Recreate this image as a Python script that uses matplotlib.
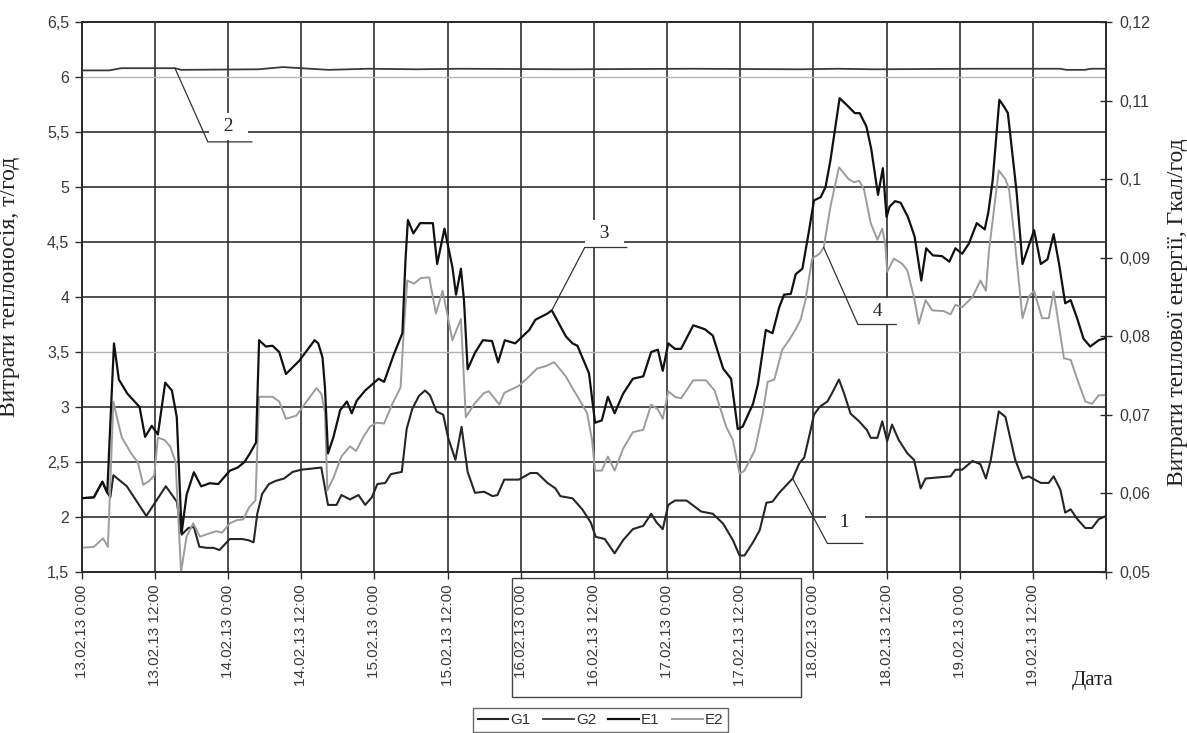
import matplotlib
matplotlib.use("Agg")
import matplotlib.pyplot as plt
from matplotlib.patches import Rectangle
from matplotlib.lines import Line2D

# hours counted from 13.02.13 0:00
hours_g1 = [0, 2, 3.4, 4.2, 4.7, 5.2, 7.4, 10.6, 13.8, 15.6,
            16.4, 17.5, 18.4, 19.3, 20.5, 21.6, 22.6, 24.3, 26.3, 27.3,
            28.2, 28.8, 29.6, 30.7, 31.9, 33.2, 34.6, 36.0, 39.3, 40.4,
            41.8, 42.6, 44.0, 45.4, 46.5, 47.6, 48.5, 49.8, 50.7, 52.5,
            53.3, 54.2, 55.3, 56.3, 57.1, 58.2, 59.3, 60.1, 61.3, 62.3,
            63.3, 64.5, 66.0, 67.4, 68.2, 69.3, 71.7, 73.6, 74.7, 76.4,
            77.7, 78.5, 80.5, 82.1, 83.5, 84.3, 85.8, 87.4, 88.8, 90.4,
            92.1, 93.4, 94.3, 95.3, 96.2, 97.3, 99.2, 101.6, 103.5, 105.2,
            106.8, 107.9, 108.7, 110.1, 111.2, 112.3, 113.3, 114.4, 116.6, 117.7,
            118.5, 119.3, 120.1, 121.0, 122.3, 123.1, 124.2, 125.0, 126.1, 127.5,
            128.8, 129.4, 130.5, 131.3, 132.1, 132.9, 134.0, 135.4, 136.5, 137.6,
            138.4, 142.5, 143.3, 144.4, 146.1, 147.4, 148.3, 149.1, 150.4, 151.5,
            153.1, 154.3, 155.3, 157.3, 158.6, 159.4, 160.5, 161.3, 162.2, 163.3,
            164.6, 165.7, 166.8, 168]
g1 = [2.17, 2.18, 2.32, 2.22, 2.18, 2.38, 2.28, 2.01, 2.28, 2.14,
      1.84, 1.90, 1.91, 1.73, 1.72, 1.72, 1.70, 1.80, 1.80, 1.79,
      1.77, 2.03, 2.21, 2.30, 2.33, 2.35, 2.41, 2.43, 2.45, 2.11,
      2.11, 2.20, 2.16, 2.20, 2.11, 2.18, 2.30, 2.31, 2.39, 2.41,
      2.80, 2.98, 3.10, 3.15, 3.11, 2.96, 2.93, 2.72, 2.52, 2.82,
      2.41, 2.22, 2.23, 2.19, 2.20, 2.34, 2.34, 2.40, 2.40, 2.31,
      2.26, 2.19, 2.17, 2.07, 1.95, 1.82, 1.80, 1.67, 1.79, 1.89,
      1.92, 2.03, 1.95, 1.89, 2.11, 2.15, 2.15, 2.05, 2.03, 1.94,
      1.79, 1.65, 1.65, 1.77, 1.88, 2.13, 2.14, 2.22, 2.35, 2.49,
      2.54, 2.73, 2.93, 3.00, 3.05, 3.13, 3.25, 3.13, 2.94, 2.87,
      2.79, 2.72, 2.72, 2.87, 2.69, 2.84, 2.70, 2.58, 2.52, 2.26,
      2.35, 2.37, 2.43, 2.43, 2.51, 2.48, 2.35, 2.52, 2.96, 2.91,
      2.52, 2.35, 2.37, 2.31, 2.31, 2.37, 2.25, 2.04, 2.07, 1.98,
      1.90, 1.90, 1.98, 2.01]

hours_g2 = [0, 4.5, 6.5, 15.3, 16.3, 29.0, 33.0, 36.0, 40.5, 47.0, 55.0,
            62.0, 80.0, 100.0, 118.0, 124.0, 130.0, 146.0, 160.5, 161.5,
            164.5, 165.5, 168]
g2 = [6.06, 6.06, 6.08, 6.08, 6.065, 6.07, 6.09, 6.08, 6.065, 6.075, 6.07,
      6.075, 6.07, 6.075, 6.07, 6.075, 6.07, 6.075, 6.075, 6.065,
      6.065, 6.075, 6.075]

hours_e1 = [0, 2, 3.4, 4.2, 4.6, 5.3, 6.1, 7.5, 9.5, 10.4,
            11.5, 12.5, 13.7, 14.8, 15.6, 16.4, 17.2, 18.4, 19.6, 21.0,
            22.4, 24.3, 25.6, 26.7, 27.6, 28.6, 29.1, 30.2, 31.3, 32.4,
            33.5, 35.7, 38.2, 38.8, 39.5, 39.9, 40.4, 41.3, 42.4, 43.5,
            44.3, 45.1, 46.5, 48.7, 49.6, 51.2, 52.6, 53.1, 53.5, 54.4,
            55.5, 57.6, 58.3, 59.5, 60.8, 61.4, 62.2, 62.7, 63.3, 64.5,
            65.8, 67.3, 68.3, 69.4, 71.1, 73.4, 74.4, 76.4, 77.1, 79.4,
            80.5, 81.3, 83.2, 84.2, 85.3, 86.3, 87.4, 88.8, 90.4, 92.1,
            93.4, 94.5, 95.3, 96.2, 97.3, 98.3, 100.3, 102.2, 103.5, 105.2,
            106.5, 107.6, 108.4, 110.1, 110.9, 112.2, 113.3, 114.4, 115.2, 116.3,
            117.1, 118.2, 119.3, 120.1, 121.2, 122.0, 122.8, 124.3, 125.4, 126.8,
            127.6, 128.7, 129.5, 130.6, 131.4, 132.0, 132.5, 133.4, 134.3, 135.5,
            136.6, 137.7, 138.5, 139.6, 141.1, 142.3, 143.3, 144.4, 145.5, 146.8,
            148.1, 148.7, 149.4, 150.5, 151.3, 151.9, 153.3, 154.3, 156.2, 157.3,
            158.4, 159.4, 160.3, 161.3, 162.2, 163.3, 164.3, 165.4, 166.8, 168]
e1 = [0.0594, 0.0595, 0.0615, 0.0601, 0.0672, 0.0791, 0.0745, 0.0727, 0.0710, 0.0672,
      0.0686, 0.0675, 0.0741, 0.0731, 0.0697, 0.0550, 0.0598, 0.0627, 0.0609, 0.0613,
      0.0612, 0.0629, 0.0633, 0.0640, 0.0651, 0.0665, 0.0795, 0.0787, 0.0788, 0.0780,
      0.0752, 0.0769, 0.0795, 0.0791, 0.0773, 0.0735, 0.0651, 0.0672, 0.0706, 0.0717,
      0.0702, 0.0718, 0.0731, 0.0746, 0.0742, 0.0777, 0.0804, 0.0896, 0.0948, 0.0931,
      0.0944, 0.0944, 0.0892, 0.0937, 0.0888, 0.0853, 0.0886, 0.0846, 0.0758, 0.0779,
      0.0795, 0.0794, 0.0767, 0.0795, 0.0791, 0.0808, 0.0821, 0.0829, 0.0833, 0.0800,
      0.0791, 0.0788, 0.0753, 0.0690, 0.0693, 0.0723, 0.0702, 0.0727, 0.0746, 0.0749,
      0.0780, 0.0783, 0.0756, 0.0791, 0.0784, 0.0784, 0.0814, 0.0809, 0.0801, 0.0759,
      0.0746, 0.0682, 0.0685, 0.0714, 0.0739, 0.0808, 0.0804, 0.0837, 0.0853, 0.0854,
      0.0879, 0.0886, 0.0935, 0.0973, 0.0977, 0.0990, 0.1024, 0.1103, 0.1095, 0.1084,
      0.1084, 0.1067, 0.1038, 0.0980, 0.1014, 0.0952, 0.0965, 0.0972, 0.0970, 0.0952,
      0.0927, 0.0871, 0.0912, 0.0903, 0.0902, 0.0895, 0.0912, 0.0905, 0.0918, 0.0944,
      0.0936, 0.0958, 0.0998, 0.1101, 0.1092, 0.1084, 0.0986, 0.0892, 0.0935, 0.0892,
      0.0898, 0.0930, 0.0892, 0.0842, 0.0846, 0.0822, 0.0797, 0.0787, 0.0795, 0.0798]

hours_e2 = [0, 2, 3.5, 4.3, 5.2, 5.8, 6.6, 8.2, 9.2, 10.1,
            11.1, 11.9, 12.5, 13.6, 14.5, 15.4, 16.3, 17.2, 18.3, 19.4,
            20.5, 22.1, 23.0, 24.3, 25.4, 26.5, 27.5, 28.5, 29.1, 31.3,
            32.4, 33.5, 35.2, 36.6, 38.5, 39.3, 39.9, 40.3, 41.3, 42.6,
            44.0, 45.0, 46.2, 47.3, 48.4, 49.6, 50.9, 52.3, 52.9, 53.4,
            54.5, 55.6, 57.0, 58.1, 59.2, 60.8, 62.2, 63.0, 64.4, 66.0,
            66.8, 68.5, 69.3, 70.9, 71.7, 73.4, 74.7, 76.1, 77.5, 79.4,
            80.5, 81.5, 82.9, 83.7, 84.2, 85.3, 86.3, 87.4, 88.8, 90.4,
            92.1, 93.4, 94.5, 95.3, 96.2, 97.3, 98.3, 100.3, 102.4, 103.8,
            105.7, 106.8, 107.9, 108.7, 110.4, 111.7, 112.5, 113.6, 114.9, 116.0,
            117.1, 117.9, 118.7, 119.8, 121.0, 121.7, 122.8, 124.2, 125.8, 126.7,
            127.5, 128.3, 129.4, 130.5, 131.3, 131.8, 132.1, 133.2, 134.6, 135.4,
            136.5, 137.3, 138.4, 139.5, 141.4, 142.5, 143.3, 144.4, 146.1, 147.4,
            148.3, 148.8, 150.4, 151.5, 152.1, 152.9, 154.3, 155.3, 156.2, 157.5,
            158.6, 159.4, 160.3, 161.1, 162.2, 163.3, 164.6, 165.7, 166.8, 168]
e2 = [0.0531, 0.0532, 0.0543, 0.0532, 0.0717, 0.0696, 0.0671, 0.0650, 0.0640, 0.0611,
      0.0616, 0.0623, 0.0671, 0.0668, 0.0660, 0.0640, 0.0500, 0.0545, 0.0562, 0.0545,
      0.0548, 0.0552, 0.0550, 0.0562, 0.0566, 0.0567, 0.0583, 0.0591, 0.0723, 0.0723,
      0.0717, 0.0695, 0.0699, 0.0714, 0.0734, 0.0727, 0.0703, 0.0604, 0.0620, 0.0647,
      0.0660, 0.0654, 0.0672, 0.0685, 0.0690, 0.0689, 0.0713, 0.0735, 0.0816, 0.0871,
      0.0867, 0.0874, 0.0875, 0.0829, 0.0858, 0.0795, 0.0822, 0.0697, 0.0714, 0.0728,
      0.0730, 0.0713, 0.0728, 0.0734, 0.0737, 0.0749, 0.0759, 0.0762, 0.0767, 0.0749,
      0.0734, 0.0721, 0.0702, 0.0668, 0.0629, 0.0629, 0.0647, 0.0629, 0.0657, 0.0678,
      0.0681, 0.0713, 0.0707, 0.0695, 0.0730, 0.0723, 0.0721, 0.0744, 0.0744, 0.0731,
      0.0685, 0.0668, 0.0625, 0.0629, 0.0655, 0.0702, 0.0742, 0.0745, 0.0783, 0.0795,
      0.0809, 0.0821, 0.0846, 0.0899, 0.0905, 0.0913, 0.0965, 0.1015, 0.1000, 0.0996,
      0.0998, 0.0987, 0.0944, 0.0923, 0.0937, 0.0917, 0.0882, 0.0899, 0.0892, 0.0884,
      0.0850, 0.0816, 0.0846, 0.0833, 0.0832, 0.0828, 0.0840, 0.0837, 0.0850, 0.0871,
      0.0858, 0.0909, 0.1011, 0.1000, 0.0987, 0.0931, 0.0823, 0.0850, 0.0858, 0.0823,
      0.0823, 0.0857, 0.0812, 0.0772, 0.0770, 0.0745, 0.0717, 0.0714, 0.0725, 0.0725]

x_ticks = [0, 12, 24, 36, 48, 60, 72, 84, 96, 108, 120, 132, 144, 156, 168]
x_labels = ['13.02.13 0:00', '13.02.13 12:00', '14.02.13 0:00', '14.02.13 12:00',
            '15.02.13 0:00', '15.02.13 12:00', '16.02.13 0:00', '16.02.13 12:00',
            '17.02.13 0:00', '17.02.13 12:00', '18.02.13 0:00', '18.02.13 12:00',
            '19.02.13 0:00', '19.02.13 12:00', '']
left_ticks = [1.5, 2.0, 2.5, 3.0, 3.5, 4.0, 4.5, 5.0, 5.5, 6.0, 6.5]
left_labels = ['1,5', '2', '2,5', '3', '3,5', '4', '4,5', '5', '5,5', '6', '6,5']
right_ticks = [0.05, 0.06, 0.07, 0.08, 0.09, 0.10, 0.11, 0.12]
right_labels = ['0,05', '0,06', '0,07', '0,08', '0,09', '0,1', '0,11', '0,12']

SANS = 'Liberation Sans'
SERIF = 'Liberation Serif'
DARK = '#2b2b2b'

fig = plt.figure(figsize=(11.87, 7.33), dpi=100)
ax = fig.add_axes([0.0688, 0.2196, 0.8630, 0.7504])
ax2 = ax.twinx()

c_g1, c_g2, c_e1, c_e2 = '#262626', '#3a3a3a', '#111111', '#9c9c9c'
ax.plot(hours_g1, g1, color=c_g1, lw=1.5, zorder=3)
ax.plot(hours_g2, g2, color=c_g2, lw=1.3, zorder=3)
ax2.plot(hours_e1, e1, color=c_e1, lw=1.6, zorder=3)
ax2.plot(hours_e2, e2, color=c_e2, lw=1.4, zorder=2)

ax.set_xlim(0, 168)
ax.set_ylim(1.5, 6.5)
ax2.set_ylim(0.05, 0.12)

ax.set_xticks(x_ticks)
ax.set_xticklabels(x_labels, rotation=90, family=SANS, fontsize=11, color='#3a3a3a')
ax.set_yticks(left_ticks)
ax.set_yticklabels(left_labels, family=SANS, fontsize=11.5, color='#3a3a3a')
ax2.set_yticks(right_ticks)
ax2.set_yticklabels(right_labels, family=SANS, fontsize=11.5, color='#3a3a3a')

ax.tick_params(axis='x', direction='out', length=5, width=1, color=DARK, pad=4)
ax.tick_params(axis='y', direction='out', length=5, width=1, color=DARK, pad=4)
ax2.tick_params(axis='y', direction='inout', length=9, width=1, color=DARK, pad=5)

ax.grid(True, color='#303030', lw=1.2)
for loc, gl in zip(ax.get_yticks(), ax.get_ygridlines()):
    if abs(loc - 6.0) < 1e-9 or abs(loc - 3.5) < 1e-9:
        gl.set_color('#b4b4b4')
        gl.set_linewidth(1.0)

for a in (ax, ax2):
    for sp in a.spines.values():
        sp.set_color(DARK)
        sp.set_linewidth(1.2)

ax.set_ylabel('Витрати теплоносія, т/год', family=SERIF, fontsize=17, color='#222222')
ax.yaxis.set_label_coords(-0.060, 0.518)
ax2.set_ylabel('Витрати теплової енергії, Гкал/год', family=SERIF, fontsize=17,
               color='#222222', rotation=90)
ax2.yaxis.set_label_coords(1.0595, 0.473)


def callout(text, t0, v0, src, t1, v1, t2, tt, vt):
    # leader from a point on a curve to an underlined number
    x0, y0 = ax.transData.inverted().transform(src.transData.transform((t0, v0)))
    ax2.plot([x0, t1, t2], [y0, v1, v1], transform=ax.transData,
             color='#333333', lw=0.9, zorder=6, clip_on=False)
    ax2.text(tt, vt, '  ' + text + '  ', transform=ax.transData, ha='center', va='center',
             family=SERIF, fontsize=14, color='#222222', zorder=5,
             bbox=dict(boxstyle='square,pad=0.25', fc='white', ec='none'))


callout('2', 15.3, g2[hours_g2.index(15.3)], ax, 20.7, 5.41, 27.9, 24.1, 5.55)
callout('3', 77.1, e1[hours_e1.index(77.1)], ax2, 82.5, 4.45, 89.4, 85.7, 4.58)
callout('4', 121.7, e2[hours_e2.index(121.7)], ax2, 127.3, 3.75, 133.6, 130.6, 3.87)
callout('1', 116.6, g1[hours_g1.index(116.6)], ax, 122.3, 1.76, 128.1, 125.2, 1.95)

ax.set_xlim(0, 168)
ax.set_ylim(1.5, 6.5)
ax2.set_ylim(0.05, 0.12)

fig.text(0.9208, 0.0723, 'Дата', ha='center', va='center', family=SERIF,
         fontsize=15, color='#222222')

# frame around the middle group of date labels
fig.patches.append(Rectangle((0.4313, 0.0491), 0.2435, 0.1623, transform=fig.transFigure,
                             fill=False, ec='#444444', lw=1.0))

handles = [Line2D([], [], color=c_g1, lw=1.5), Line2D([], [], color=c_g2, lw=1.3),
           Line2D([], [], color=c_e1, lw=1.6), Line2D([], [], color=c_e2, lw=1.4)]
leg = fig.legend(handles, ['G1', 'G2', 'E1', 'E2'], loc='upper center',
                 bbox_to_anchor=(0.506, 0.0335), ncol=4, frameon=True, fancybox=False,
                 prop={'family': SANS, 'size': 11}, handlelength=2.0, handletextpad=0.15,
                 columnspacing=0.8, borderpad=0.3, borderaxespad=0)
leg.get_frame().set_edgecolor('#444444')
leg.get_frame().set_linewidth(1.0)
for t in leg.get_texts():
    t.set_color('#333333')

fig.savefig('out.png', dpi=100)
